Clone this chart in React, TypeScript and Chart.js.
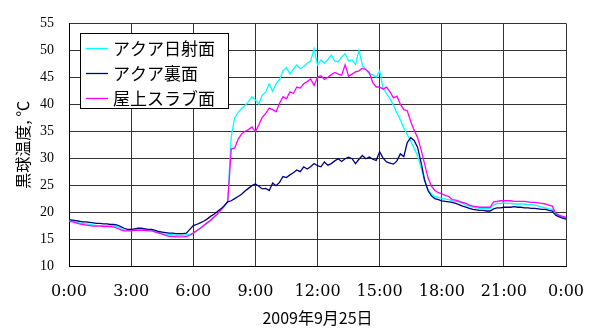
import React, { useEffect, useRef } from "react";
import { Chart, registerables } from "chart.js";

Chart.register(...registerables);

const SERIES_NAMES = ["アクア日射面", "アクア裏面", "屋上スラブ面"];
const SERIES_COLORS = ["#00FFFF", "#000080", "#FF00FF"];
const X_TITLE = "2009年9月25日";
const Y_TITLE = "黒球温度, ℃";
const X_MIN_HOUR = 0;
const X_MAX_HOUR = 24;
const X_STEP_HOUR = 3;
const Y_MIN = 10;
const Y_MAX = 55;
const Y_STEP = 5;
const STEP_MINUTES = 10;

// アクア日射面 (10-minute readings, 0:00 -> 24:00)
const aquaSun = [
  18.4, 18.3, 18.2, 18.0, 17.9, 17.8, 17.7,
  17.6, 17.5, 17.5, 17.5, 17.5, 17.4,
  17.4, 17.3, 17.0, 16.7, 16.6, 16.6,
  16.7, 16.8, 16.8, 16.7, 16.6, 16.6,
  16.4, 16.2, 16.0, 15.9, 15.8, 15.8,
  15.7, 15.7, 15.7, 15.8, 15.9, 16.1,
  16.5, 16.9, 17.4, 17.9, 18.4, 19.0,
  19.6, 20.3, 21.0, 22.0, 34.0, 37.5,
  38.5, 39.2, 39.8, 40.5, 41.4, 40.8,
  40.0, 41.7, 42.3, 43.8, 42.4, 43.8,
  44.6, 46.2, 46.8, 45.6, 46.5, 47.3,
  46.6, 47.0, 47.6, 48.0, 50.3, 47.3,
  48.2, 47.6, 48.3, 49.1, 48.0, 47.9,
  48.8, 49.4, 48.0, 48.2, 47.4, 50.0,
  47.2, 46.5, 45.6, 45.5, 45.0, 46.2,
  43.0, 42.0, 41.0, 39.8, 38.4, 37.1,
  35.6, 34.4, 33.2, 31.8, 30.4, 28.3,
  25.8, 24.2, 23.3, 22.9, 22.7, 22.6,
  22.4, 22.3, 22.1, 22.0, 21.9, 21.6,
  21.3, 21.1, 20.9, 20.8, 20.7, 20.7,
  20.7, 20.7, 21.3, 21.6, 21.6, 21.7,
  21.6, 21.6, 21.5, 21.5, 21.5, 21.5,
  21.4, 21.4, 21.3, 21.1, 20.9, 20.8,
  20.6, 20.5, 19.6, 19.3, 19.1, 18.9,
];

// アクア裏面
const aquaBack = [
  18.6, 18.5, 18.4, 18.3, 18.2, 18.2, 18.1,
  18.0, 17.9, 17.9, 17.8, 17.8, 17.7,
  17.7, 17.6, 17.3, 17.0, 16.8, 16.8,
  16.9, 17.0, 17.0, 16.9, 16.8, 16.8,
  16.6, 16.4, 16.3, 16.2, 16.1, 16.1,
  16.0, 16.0, 16.0, 16.1, 16.8, 17.5,
  17.7, 18.0, 18.3, 18.7, 19.2, 19.6,
  20.1, 20.6, 21.2, 21.9, 22.1, 22.5,
  22.9, 23.3, 23.9, 24.4, 24.9, 25.2,
  24.8, 24.3, 24.4, 24.0, 25.4, 24.9,
  25.5, 26.6, 26.4, 26.9, 27.3, 27.8,
  27.5, 28.4, 28.0, 28.4, 29.0, 28.6,
  28.4, 29.3, 28.7, 29.0, 29.5, 29.9,
  29.4, 29.9, 30.2, 29.9, 29.0, 29.8,
  30.5, 29.9, 30.2, 29.8, 29.6, 31.2,
  30.0, 29.3, 29.1, 28.9, 29.5, 30.8,
  30.3, 32.9, 33.8, 33.3, 32.0, 29.2,
  26.0, 24.0, 23.0, 22.5, 22.3, 22.1,
  22.0, 21.9, 21.8, 21.6, 21.4, 21.1,
  20.9, 20.7, 20.5, 20.4, 20.3, 20.3,
  20.2, 20.2, 20.6, 20.8, 20.8, 20.9,
  20.9, 20.9, 21.0, 20.9, 20.9, 20.8,
  20.8, 20.7, 20.7, 20.6, 20.5, 20.5,
  20.3, 20.2, 19.4, 19.1, 18.9, 18.7,
];

// 屋上スラブ面
const roofSlab = [
  18.3, 18.2, 18.0, 17.8, 17.7, 17.6, 17.5,
  17.4, 17.4, 17.4, 17.3, 17.3, 17.3,
  17.2, 17.0, 16.7, 16.5, 16.5, 16.5,
  16.6, 16.6, 16.6, 16.6, 16.5, 16.5,
  16.3, 16.1, 15.9, 15.7, 15.5, 15.5,
  15.4, 15.4, 15.4, 15.5, 15.7, 16.1,
  16.6, 17.0, 17.5, 18.0, 18.5, 19.1,
  19.7, 20.4, 21.2, 22.0, 31.7, 31.9,
  33.5, 34.5, 35.0, 35.3, 35.8, 34.9,
  36.2, 37.6, 38.3, 39.3, 39.0, 38.6,
  40.2, 41.4, 41.0, 42.3, 42.0, 43.2,
  43.0, 43.8, 44.2, 44.7, 43.5, 45.0,
  45.3, 44.6, 45.0, 45.5, 45.9, 45.6,
  45.4, 47.3, 45.2, 45.6, 46.0, 46.2,
  46.7, 46.4, 45.9, 44.0, 43.2, 43.2,
  42.8, 43.2, 42.3, 41.2, 41.5, 40.0,
  39.0, 38.8, 36.8, 35.2, 33.8, 31.6,
  29.0, 26.4, 24.8, 24.0, 23.6, 23.4,
  23.1, 22.9, 22.3, 22.2, 22.0, 21.8,
  21.6, 21.3, 21.1, 21.0, 20.9, 20.9,
  20.9, 20.9, 21.9, 22.0, 22.1, 22.1,
  22.1, 22.1, 22.0, 22.0, 22.0, 22.0,
  21.9, 21.8, 21.8, 21.7, 21.6, 21.5,
  21.3, 21.1, 19.8, 19.4, 19.2, 19.0,
];

const SERIES_VALUES = [aquaSun, aquaBack, roofSlab];
// drawing order: navy on top, then magenta, cyan at the bottom
const SERIES_ORDER = [2, 0, 1];

const GRID_COLOR = "#333333";
const TICK_FONT_Y = { family: "'Liberation Serif', 'DejaVu Serif', serif", size: 14 };
const TICK_FONT_X = { family: "'DejaVu Serif', 'Liberation Serif', serif", size: 16 };
const TITLE_FONT = { family: "'Noto Sans CJK JP', 'Noto Sans', sans-serif", size: 16 };
const LEGEND_FONT = "17px 'Noto Sans CJK JP', 'Noto Sans', sans-serif";

const boxLegend = {
  id: "boxLegend",
  afterDatasetsDraw(chart: any) {
    const { ctx, chartArea } = chart;
    const x0 = Math.round(chartArea.left) + 11;
    const y0 = Math.round(chartArea.top) + 10;
    const w = 148;
    const h = 75;
    ctx.save();
    ctx.fillStyle = "#ffffff";
    ctx.fillRect(x0, y0, w, h);
    ctx.strokeStyle = "#000000";
    ctx.lineWidth = 1;
    ctx.strokeRect(x0 + 0.5, y0 + 0.5, w, h);
    chart.data.datasets.forEach((ds: any, k: number) => {
      const cy = y0 + 15 + k * 25;
      ctx.strokeStyle = ds.borderColor;
      ctx.lineWidth = 1.3;
      ctx.beginPath();
      ctx.moveTo(x0 + 6, cy + 0.5);
      ctx.lineTo(x0 + 28, cy + 0.5);
      ctx.stroke();
      ctx.fillStyle = "#000000";
      ctx.font = LEGEND_FONT;
      ctx.textBaseline = "middle";
      ctx.textAlign = "left";
      ctx.fillText(ds.label, x0 + 33, cy + 1);
    });
    ctx.restore();
  },
};

export default function App() {
  const ref = useRef<HTMLCanvasElement>(null);

  useEffect(() => {
    if (!ref.current) return;
    const times = aquaSun.map((_, i) => (i * STEP_MINUTES) / 60);
    const datasets = SERIES_NAMES.map((name, k) => ({
      label: name,
      data: SERIES_VALUES[k].map((v, i) => ({ x: times[i], y: v })),
      borderColor: SERIES_COLORS[k],
      backgroundColor: SERIES_COLORS[k],
      borderWidth: 1.3,
      pointRadius: 0,
      tension: 0,
      fill: false,
      order: SERIES_ORDER[k],
    }));

    const chart = new Chart(ref.current, {
      type: "line",
      data: { datasets },
      options: {
        responsive: false,
        animation: false,
        devicePixelRatio: 1,
        layout: { padding: { top: 12, right: 25, left: 0, bottom: 0 } },
        plugins: {
          legend: { display: false },
          tooltip: { enabled: false },
        },
        scales: {
          x: {
            type: "linear",
            min: X_MIN_HOUR,
            max: X_MAX_HOUR,
            afterFit: (s: any) => {
              s.height = 62;
            },
            ticks: {
              stepSize: X_STEP_HOUR,
              autoSkip: false,
              maxRotation: 0,
              padding: 16,
              color: "#000",
              font: TICK_FONT_X,
              callback: (v: any) => `${Number(v) % 24}:00`,
            },
            grid: { color: GRID_COLOR, lineWidth: 1, drawTicks: false },
            border: { color: "#000", width: 1 },
            title: {
              display: true,
              text: X_TITLE,
              color: "#000",
              font: TITLE_FONT,
              padding: { top: 0, bottom: 0 },
            },
          },
          y: {
            type: "linear",
            min: Y_MIN,
            max: Y_MAX,
            afterFit: (s: any) => {
              s.width = 69;
            },
            ticks: {
              stepSize: Y_STEP,
              padding: 15,
              color: "#000",
              font: TICK_FONT_Y,
            },
            grid: { color: GRID_COLOR, lineWidth: 1, drawTicks: false },
            border: { color: "#000", width: 1 },
            title: {
              display: true,
              text: Y_TITLE,
              color: "#000",
              font: TITLE_FONT,
              padding: { top: 13, bottom: 0 },
            },
          },
        },
      } as any,
      plugins: [boxLegend],
    });

    return () => chart.destroy();
  }, []);

  return (
    <div
      style={{
        position: "fixed",
        left: 0,
        top: 0,
        width: 600,
        height: 328,
        background: "#ffffff",
      }}
    >
      <canvas ref={ref} width={600} height={328} style={{ display: "block" }} />
    </div>
  );
}
